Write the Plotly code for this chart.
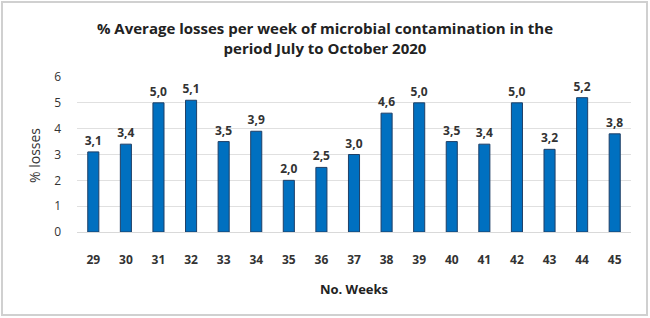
import plotly.graph_objects as go

weeks = ["29","30","31","32","33","34","35","36","37","38","39","40","41","42","43","44","45"]
losses = [3.1,3.4,5.0,5.1,3.5,3.9,2.0,2.5,3.0,4.6,5.0,3.5,3.4,5.0,3.2,5.2,3.8]
labels = [f"<b>{v:.1f}</b>".replace(".", ",") for v in losses]
yticks = [0,1,2,3,4,5,6]

FONT = "Open Sans"
W, H = 650, 318
L, R, T, B = 77, 19, 77, 86
pw, ph = W - L - R, H - T - B

fig = go.Figure(go.Bar(
    x=weeks, y=losses, text=labels, textposition="outside", constraintext="none",
    textfont=dict(family=FONT, size=12, color="#333333"),
    marker=dict(color="#0070C0", line=dict(color="#1F3F66", width=1)),
    cliponaxis=False, width=0.34,
))

def px(x):
    return (x - L) / pw
def py(y):
    return (H - B - y) / ph

fig.update_layout(
    width=W, height=H, margin=dict(l=L, r=R, t=T, b=B, autoexpand=False),
    paper_bgcolor="white", plot_bgcolor="white",
    title=dict(text="<b>% Average losses per week of microbial contamination in the<br>period July to October 2020</b>",
               x=0.5, xanchor="center", y=1 - 34/H, yanchor="top",
               font=dict(family=FONT, size=15, color="#222222")),
    xaxis=dict(automargin=False, tickfont=dict(family=FONT, size=12, color="#333333"),
               title=dict(text="<b>No. Weeks</b>", font=dict(family=FONT, size=13, color="#222222"), standoff=17),
               showline=True, linecolor="#d9d9d9", ticks="", tickprefix="<b>", ticksuffix="</b>",
               ticklabelstandoff=17),
    yaxis=dict(automargin=False, range=[0, 6], tickvals=yticks,
               tickfont=dict(family=FONT, size=12, color="#333333"),
               tickprefix="<b>", ticksuffix="</b>",
               gridcolor="#e0e0e0", zeroline=False, ticklabelstandoff=15),
    showlegend=False,
    annotations=[dict(text="% losses", xref="paper", yref="paper", x=px(34), y=py(155),
                      xanchor="center", yanchor="middle", textangle=-90, showarrow=False,
                      font=dict(family=FONT, size=14, color="#333333"))],
    shapes=[dict(type="rect", xref="paper", yref="paper",
                 x0=px(2), x1=px(647), y0=py(315), y1=py(2),
                 line=dict(color="#d0d0d0", width=2), fillcolor="rgba(0,0,0,0)")],
)

fig.write_html("out.html", config={"displayModeBar": False},
               post_script="document.body.style.margin='0';document.body.style.overflow='hidden';")
